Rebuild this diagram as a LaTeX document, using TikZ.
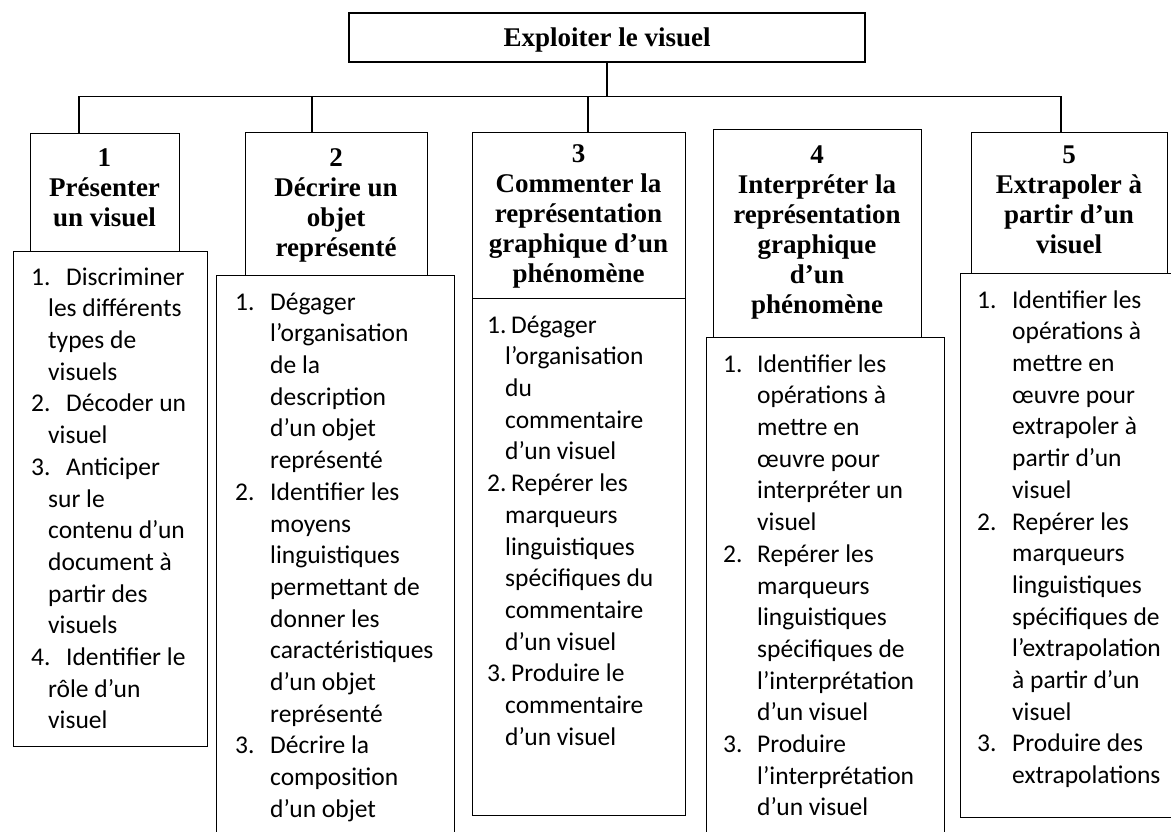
\documentclass[tikz,border=0pt]{standalone}
\usepackage{fontspec}
\newfontfamily\bodyfont{Carlito}
\newfontfamily\headfont{Liberation Serif}
\newcommand{\itemno}[2]{\makebox[#1][l]{#2}}
\newcommand{\cont}[1]{\hspace*{#1}}

\tikzset{
  box/.style={draw, line width=1.2pt, fill=white, inner sep=0pt, anchor=north west},
  wire/.style={line width=1.2pt},
  headtext/.style={font=\headfont\bfseries\fontsize{27}{30}\selectfont, inner sep=0pt, anchor=north},
  itemtext/.style={font=\bodyfont\fontsize{25.5}{31.7}\selectfont, inner sep=0pt, anchor=north west},
}

\begin{document}
\begin{tikzpicture}[x=1pt,y=-1pt]
	\useasboundingbox (0,0) rectangle (1171,832);
	\clip (0,0) rectangle (1171,832);
	% top
	\node[box, anchor=center, minimum width=516, minimum height=49, text depth=0pt,
	      font=\headfont\bfseries\fontsize{27}{30}\selectfont] (top) at (607,37.5) {Exploiter le visuel};
	% headings
	\node[box, minimum width=149, minimum height=118] (h1) at (30,133) {};
	\node[box, minimum width=182, minimum height=143] (h2) at (245,132) {};
	\node[box, minimum width=213, minimum height=166] (h3) at (472,132) {};
	\node[box, minimum width=208, minimum height=208] (h4) at (713,129) {};
	\node[box, minimum width=196, minimum height=141] (h5) at (971,132) {};
	\node[headtext] (h1txt) at (104.5,145) {\begin{tabular}{@{}c@{}}1\\Présenter\\un visuel\end{tabular}};
	\node[headtext] (h2txt) at (336,145) {\begin{tabular}{@{}c@{}}2\\Décrire un\\objet\\représenté\end{tabular}};
	\node[headtext] (h3txt) at (578.5,141) {\begin{tabular}{@{}c@{}}3\\Commenter la\\représentation\\graphique d’un\\phénomène\end{tabular}};
	\node[headtext] (h4txt) at (817,142) {\begin{tabular}{@{}c@{}}4\\Interpréter la\\représentation\\graphique\\d’un\\phénomène\end{tabular}};
	\node[headtext] (h5txt) at (1069,142) {\begin{tabular}{@{}c@{}}5\\Extrapoler à\\partir d’un\\visuel\end{tabular}};
	% lists
	\node[box, minimum width=194, minimum height=495] (l1) at (13,251) {};
	\node[box, minimum width=238, minimum height=600] (l2) at (216,275) {};
	\node[box, minimum width=213, minimum height=517] (l3) at (472,298) {};
	\node[box, minimum width=238, minimum height=600] (l4) at (706,337) {};
	\node[box, minimum width=260, minimum height=544] (l5) at (960,273) {};
	\node[itemtext] (l1txt) at (31,262.8) {\begin{tabular}{@{}l@{}}
		\itemno{35pt}{1.}Discriminer\\ \cont{17pt}les différents\\ \cont{17pt}types de\\ \cont{17pt}visuels\\
		\itemno{35pt}{2.}Décoder un\\ \cont{17pt}visuel\\
		\itemno{35pt}{3.}Anticiper\\ \cont{17pt}sur le\\ \cont{17pt}contenu d’un\\ \cont{17pt}document à\\ \cont{17pt}partir des\\ \cont{17pt}visuels\\
		\itemno{35pt}{4.}Identifier le\\ \cont{17pt}rôle d’un\\ \cont{17pt}visuel
	\end{tabular}};
	\node[itemtext] (l2txt) at (235,287.8) {\begin{tabular}{@{}l@{}}
		\itemno{35pt}{1.}Dégager\\ \cont{35pt}l’organisation\\ \cont{35pt}de la\\ \cont{35pt}description\\ \cont{35pt}d’un objet\\ \cont{35pt}représenté\\
		\itemno{35pt}{2.}Identifier les\\ \cont{35pt}moyens\\ \cont{35pt}linguistiques\\ \cont{35pt}permettant de\\ \cont{35pt}donner les\\ \cont{35pt}caractéristiques\\ \cont{35pt}d’un objet\\ \cont{35pt}représenté\\
		\itemno{35pt}{3.}Décrire la\\ \cont{35pt}composition\\ \cont{35pt}d’un objet
	\end{tabular}};
	\node[itemtext] (l3txt) at (487,310.8) {\begin{tabular}{@{}l@{}}
		\itemno{24pt}{1.}Dégager\\ \cont{18pt}l’organisation\\ \cont{18pt}du\\ \cont{18pt}commentaire\\ \cont{18pt}d’un visuel\\
		\itemno{24pt}{2.}Repérer les\\ \cont{18pt}marqueurs\\ \cont{18pt}linguistiques\\ \cont{18pt}spécifiques du\\ \cont{18pt}commentaire\\ \cont{18pt}d’un visuel\\
		\itemno{24pt}{3.}Produire le\\ \cont{18pt}commentaire\\ \cont{18pt}d’un visuel
	\end{tabular}};
	\node[itemtext] (l4txt) at (723,349.8) {\begin{tabular}{@{}l@{}}
		\itemno{34pt}{1.}Identifier les\\ \cont{34pt}opérations à\\ \cont{34pt}mettre en\\ \cont{34pt}œuvre pour\\ \cont{34pt}interpréter un\\ \cont{34pt}visuel\\
		\itemno{34pt}{2.}Repérer les\\ \cont{34pt}marqueurs\\ \cont{34pt}linguistiques\\ \cont{34pt}spécifiques de\\ \cont{34pt}l’interprétation\\ \cont{34pt}d’un visuel\\
		\itemno{34pt}{3.}Produire\\ \cont{34pt}l’interprétation\\ \cont{34pt}d’un visuel
	\end{tabular}};
	\node[itemtext] (l5txt) at (977,285.8) {\begin{tabular}{@{}l@{}}
		\itemno{35pt}{1.}Identifier les\\ \cont{35pt}opérations à\\ \cont{35pt}mettre en\\ \cont{35pt}œuvre pour\\ \cont{35pt}extrapoler à\\ \cont{35pt}partir d’un\\ \cont{35pt}visuel\\
		\itemno{35pt}{2.}Repérer les\\ \cont{35pt}marqueurs\\ \cont{35pt}linguistiques\\ \cont{35pt}spécifiques de\\ \cont{35pt}l’extrapolation\\ \cont{35pt}à partir d’un\\ \cont{35pt}visuel\\
		\itemno{35pt}{3.}Produire des\\ \cont{35pt}extrapolations
	\end{tabular}};
	% connectors
	\coordinate (d1) at (79,133);
	\coordinate (d2) at (312,132);
	\coordinate (d3) at (588,132);
	\coordinate (d5) at (1061,132);
	\draw[wire] (top.south) -- ++(0,34) coordinate (bus);
	\draw[wire] (d1) |- (bus) -| (d5);
	\draw[wire] (d2) -- (d2 |- bus);
	\draw[wire] (d3) -- (d3 |- bus);
\end{tikzpicture}
\end{document}
